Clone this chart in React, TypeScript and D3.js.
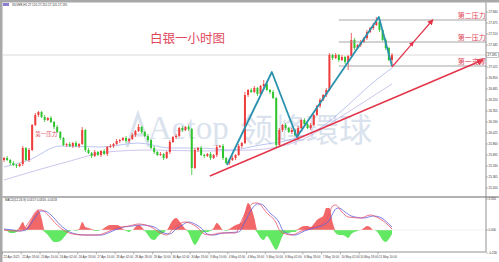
import React, { useEffect } from 'react';
import * as d3 from 'd3';

const W = 499;
const H = 262;

// ---------- price data (SILVER H1) ----------
const firstOpen = 25.62;
const closes = [
  25.65, 25.62, 25.575, 25.545, 25.53, 25.56, 25.8, 25.62, 25.77, 26.145,
  26.295, 26.34, 26.265, 26.22, 26.25, 26.19, 26.115, 26.04, 25.95, 25.845,
  25.86, 25.83, 25.875, 25.83, 25.86, 26.07, 25.77, 25.725, 25.68, 25.74,
  25.695, 25.755, 25.71, 25.815, 25.83, 25.86, 25.905, 25.92, 25.95, 25.905,
  25.935, 25.995, 26.055, 26.115, 26.04, 25.98, 25.92, 25.8, 25.74, 25.695,
  25.71, 25.65, 25.74, 25.89, 25.965, 25.98, 26.1, 26.07, 26.115, 26.085,
  25.5, 25.77, 25.8, 25.695, 25.68, 25.71, 25.65, 25.695, 25.815, 25.83,
  25.65, 25.575, 25.62, 25.65, 25.695, 25.83, 25.875, 26.595, 26.67, 26.64,
  26.7, 26.61, 26.73, 26.76, 26.67, 26.64, 26.55, 25.845, 26.07, 26.145,
  26.1, 26.04, 26.07, 25.995, 26.1, 26.22, 26.16, 26.1, 26.145, 26.295,
  26.43, 26.52, 26.595, 26.67, 27.195, 27.15, 27.195, 27.12, 27.165, 27.09,
  27.18, 27.42, 27.3, 27.345, 27.39, 27.45, 27.54, 27.6, 27.645, 27.69,
  27.57, 27.42, 27.3, 27.12, 27.195,
];
// wick lengths, in ticks of 0.015
const wickUp =
  '1212112121' + '2112121211' + '1212131212' + '1121212112' + '1213112121' +
  '2112121212' + '1212112121' + '2112121312' + '2114212121' + '2121212121' +
  '1212212121' + '1721212125' + '21212';
const wickDown =
  '2121212121' + '1212112121' + '2121212121' + '1212121212' + '2121212121' +
  '1212121212' + '7121212121' + '2121212121' + '1212121312' + '2121512121' +
  '1212121212' + '8121212121' + '21217';
const wickTick = 0.015;

// moving averages [index, price]
const maFast: [number, number][] = [
  [0, 25.515], [8, 25.62], [18, 25.83], [31, 25.815], [43, 25.875], [53, 25.8],
  [63, 25.8], [72, 25.77], [82, 25.845], [91, 25.92], [101, 26.1], [110, 26.445],
  [117, 26.745], [124, 27.0],
];
const maSlow: [number, number][] = [
  [0, 25.32], [20, 25.59], [33, 25.74], [47, 25.77], [63, 25.755], [79, 25.77],
  [95, 25.92], [107, 26.25], [117, 26.55], [124, 26.76],
];

// ---------- MACD ----------
const macdHist = [
  0.01, -0.01, -0.03, -0.03, -0.02, 0.03, 0.08, 0.02, 0.06, 0.12,
  0.17, 0.2, 0.12, -0.02, -0.05, -0.09, -0.12, -0.12, -0.11, -0.08,
  -0.04, -0.01, 0.0, -0.01, 0.01, 0.08, 0.03, 0.02, 0.01, -0.01,
  -0.01, 0.0, 0.02, 0.04, 0.05, 0.05, 0.05, 0.04, 0.01, -0.01,
  -0.02, 0.0, 0.03, 0.05, 0.03, -0.01, -0.05, -0.09, -0.1, -0.07,
  -0.04, -0.03, 0.0, 0.05, 0.1, 0.12, 0.09, 0.05, 0.01, -0.03,
  -0.1, -0.15, -0.11, -0.05, -0.02, -0.02, -0.01, 0.02, 0.07, 0.04,
  0.0, -0.01, 0.01, 0.03, 0.05, 0.06, 0.08, 0.18, 0.27, 0.22,
  0.12, -0.03, -0.08, -0.1, -0.06, -0.1, -0.16, -0.2, -0.14, -0.06,
  -0.03, -0.03, -0.02, -0.02, 0.01, 0.03, 0.04, 0.04, 0.03, 0.06,
  0.1, 0.12, 0.14, 0.22, 0.22, 0.08, -0.03, -0.05, -0.05, -0.06,
  -0.08, -0.04, -0.02, -0.01, 0.0, 0.02, 0.04, 0.03, 0.0, -0.01,
  -0.05, -0.1, -0.12, -0.09, -0.04,
];
const macdRed: [number, number][] = [
  [0, 0], [3, -0.01], [5, -0.01], [6, 0], [8, 0.08], [11, 0.2], [12, 0.2], [14, 0.15],
  [17, 0.05], [20, -0.02], [22, -0.04], [25, -0.05], [30, -0.05], [33, -0.02], [36, 0.02],
  [40, 0.04], [43, 0.06], [47, 0.03], [50, -0.03], [52, -0.05], [54, 0.01], [56, 0.06],
  [58, 0.08], [60, 0.06], [62, 0.02], [64, -0.04], [66, -0.05], [69, -0.03], [74, -0.03],
  [76, 0.1], [78, 0.22], [80, 0.27], [81, 0.27], [84, 0.17], [87, 0.07], [88, 0.0],
  [90, -0.04], [92, -0.05], [95, -0.01], [98, 0.02], [101, 0.05], [103, 0.1], [104, 0.17],
  [105, 0.24], [106, 0.25], [108, 0.18], [110, 0.13], [114, 0.12], [117, 0.15],
  [119, 0.13], [122, 0.07], [124, 0.01],
];
const macdBlue: [number, number][] = [
  [0, 0.01], [3, 0], [5, -0.01], [7, 0], [9, 0.08], [12, 0.19], [13, 0.19], [15, 0.15],
  [18, 0.05], [21, -0.02], [23, -0.04], [26, -0.05], [31, -0.05], [34, -0.02], [37, 0.02],
  [41, 0.04], [44, 0.05], [48, 0.03], [51, -0.03], [53, -0.04], [55, 0.01], [57, 0.05],
  [59, 0.08], [61, 0.06], [63, 0.02], [65, -0.04], [67, -0.05], [70, -0.03], [75, -0.02],
  [77, 0.08], [79, 0.2], [81, 0.26], [82, 0.26], [85, 0.17], [88, 0.07], [89, 0.0],
  [91, -0.04], [93, -0.05], [96, -0.01], [99, 0.02], [102, 0.05], [104, 0.1], [105, 0.16],
  [106, 0.21], [107, 0.22], [109, 0.18], [111, 0.14], [115, 0.12], [118, 0.14],
  [120, 0.13], [123, 0.06], [124, 0.03],
];

// ---------- annotations ----------
const zigzag: [number, number][] = [
  [71.25, 25.545], [85.6, 26.94], [93.6, 25.965], [119.8, 27.765], [124, 27.03],
];
const trendLine: [number, number][] = [[65.8, 25.38], [153, 27.12]];
const upArrow: [number, number][] = [[124, 27.015], [130.5, 27.37], [137, 27.72]];
const levelStart = 107;
const levels = [
  { name: '第二压力', price: 27.72 },
  { name: '第一压力', price: 27.39 },
  { name: '第一支撑', price: 27.03 },
];

// ---------- axes ----------
const priceTicks = [
  27.84, 27.675, 27.51, 27.345, 27.18, 27.015, 26.85, 26.685, 26.52, 26.355,
  26.19, 26.025, 25.86, 25.695, 25.53, 25.365, 25.2,
];
const macdTicks = [0.31, 0.0, -0.23];
const timeLabels = [
  '22 Apr 2021', '22 Apr 18:00', '23 Apr 10:00', '26 Apr 02:00', '26 Apr 18:00',
  '27 Apr 10:00', '28 Apr 02:00', '28 Apr 18:00', '29 Apr 10:00', '30 Apr 02:00',
  '30 Apr 18:00', '3 May 10:00', '4 May 02:00', '4 May 18:00', '5 May 10:00',
  '6 May 02:00', '6 May 18:00', '7 May 10:00', '10 May 02:00', '10 May 18:00',
  '11 May 10:00',
];
const timeTickStep = 6;

const UP = '#ee3d3d';
const DOWN = '#2fc52f';
const ANN = '#e3344a';

export default function App() {
  useEffect(() => {
    document.body.style.margin = '0';
  }, []);

  const x = d3.scaleLinear().domain([0, 124]).range([4, 392]);
  const y = d3.scaleLinear().domain([25.2, 27.84]).range([188, 12]);
  const m = d3.scaleLinear().domain([-0.23, 0.31]).range([253, 199]);
  const step = x(1) - x(0);

  const candles = closes.map((c, i) => {
    const o = i === 0 ? firstOpen : closes[i - 1];
    const hi = Math.max(o, c) + Number(wickUp[i]) * wickTick;
    const lo = Math.min(o, c) - Number(wickDown[i]) * wickTick;
    return { i, o, c, hi, lo };
  });

  const pLine = d3
    .line<[number, number]>()
    .x((d) => x(d[0]))
    .y((d) => y(d[1]));
  const smoothP = d3
    .line<[number, number]>()
    .x((d) => x(d[0]))
    .y((d) => y(d[1]))
    .curve(d3.curveMonotoneX);
  const smoothM = d3
    .line<[number, number]>()
    .x((d) => x(d[0]))
    .y((d) => m(d[1]))
    .curve(d3.curveMonotoneX);
  const histPos = d3
    .area<number>()
    .x((_, i) => x(i))
    .y0(m(0))
    .y1((v) => m(Math.max(0, v)))
    .curve(d3.curveMonotoneX);
  const histNeg = d3
    .area<number>()
    .x((_, i) => x(i))
    .y0(m(0))
    .y1((v) => m(Math.min(0, v)))
    .curve(d3.curveMonotoneX);

  const last = closes[closes.length - 1];
  const axisX = 486;
  const font = "'Liberation Sans', Arial, sans-serif";
  const cjk = "'Noto Sans CJK SC', sans-serif";

  return (
    <svg
      width={W}
      height={H}
      viewBox={`0 0 ${W} ${H}`}
      style={{ display: 'block', position: 'absolute', left: 0, top: 0, background: '#fff' }}
    >
      <defs>
        <marker id="ah" viewBox="0 0 10 10" refX="8" refY="5" markerWidth="5" markerHeight="5" orient="auto">
          <path d="M0,0 L10,5 L0,10 z" fill={ANN} />
        </marker>
        <marker id="am" viewBox="0 0 10 10" refX="5" refY="5" markerWidth="4" markerHeight="4" orient="auto">
          <path d="M0,0 L10,5 L0,10 z" fill={ANN} />
        </marker>
      </defs>

      {/* frame */}
      <rect x={0} y={0} width={W} height={2.5} fill="#a8a8a8" />
      <rect x={0} y={0} width={2.5} height={H} fill="#a8a8a8" />

      {/* header */}
      <rect x={3} y={3} width={6} height={3} fill="#8a7fd0" />
      <text x={12} y={6} fontSize={3} fontFamily={font} fill="#333">
        SILVER,H1 27.120 27.210 27.105 {last.toFixed(3)}
      </text>

      {/* watermark */}
      <g opacity={0.5}>
        <path d="M127,147 L138,114 L149,147 M132,135 L144,135" fill="none" stroke="#b6c6dd" strokeWidth={3} />
        <text x={148} y={139} fontSize={33} fontFamily="'Liberation Serif', 'DejaVu Serif', serif" fill="#b6c6dd">
          Aetop
        </text>
        <text x={240} y={142} fontSize={33} fontFamily="'Noto Sans CJK TC', serif" fill="#b6c6dd">
          领峰環球
        </text>
      </g>

      {/* title */}
      <text x={150} y={43} fontSize={12.5} fontFamily={cjk} fill="#e0485a">
        白银一小时图
      </text>

      {/* bid line */}
      <line x1={2.5} x2={axisX} y1={y(last)} y2={y(last)} stroke="#cfcfcf" strokeWidth={0.8} />

      {/* moving averages */}
      <path d={smoothP(maSlow) || ''} fill="none" stroke="#c3b5e6" strokeWidth={0.8} />
      <path d={smoothP(maFast) || ''} fill="none" stroke="#a9b6ec" strokeWidth={0.8} />

      {/* candles */}
      {candles.map((d) => {
        const col = d.c >= d.o ? UP : DOWN;
        const top = y(Math.max(d.o, d.c));
        const bot = y(Math.min(d.o, d.c));
        return (
          <g key={d.i}>
            <line x1={x(d.i)} x2={x(d.i)} y1={y(d.hi)} y2={y(d.lo)} stroke={col} strokeWidth={0.8} />
            <rect x={x(d.i) - 1} y={top} width={2} height={Math.max(0.8, bot - top)} fill={col} />
          </g>
        );
      })}

      {/* level lines */}
      {levels.map((l) => (
        <line key={l.name} x1={x(levelStart)} x2={axisX} y1={y(l.price)} y2={y(l.price)} stroke="#9c9c9c" strokeWidth={0.9} />
      ))}

      {/* zigzag */}
      <path d={pLine(zigzag) || ''} fill="none" stroke="#2a92ad" strokeWidth={1.8} strokeLinejoin="round" />

      {/* red trend line and arrows */}
      <path d={pLine(trendLine) || ''} fill="none" stroke={ANN} strokeWidth={1.4} markerEnd="url(#ah)" />
      <path d={pLine(upArrow) || ''} fill="none" stroke={ANN} strokeWidth={1.2} markerMid="url(#am)" markerEnd="url(#ah)" />

      {/* level labels */}
      {levels.map((l) => (
        <text key={l.name + 't'} x={x(145)} y={y(l.price) - 2.2} fontSize={7} fontFamily={cjk} fill="#e0485a">
          {l.name}
        </text>
      ))}
      <text x={x(10)} y={y(25.98)} fontSize={5.5} fontFamily={cjk} fill="#e0485a">
        第一压力
      </text>

      {/* MACD panel */}
      <line x1={2.5} x2={W} y1={197} y2={197} stroke="#666" strokeWidth={1} />
      <text x={5} y={201} fontSize={3} fontFamily={font} fill="#333">
        MACD(12,26,9) 0.0157 0.0316 -0.0158
      </text>
      <path d={histPos(macdHist) || ''} fill="#f26868" />
      <path d={histNeg(macdHist) || ''} fill="#62e862" />
      <line x1={2.5} x2={axisX} y1={m(0)} y2={m(0)} stroke="#e6e6e6" strokeWidth={0.5} />
      <path d={smoothM(macdBlue) || ''} fill="none" stroke="#5a5ee0" strokeWidth={0.8} />
      <path d={smoothM(macdRed) || ''} fill="none" stroke="#e8506a" strokeWidth={0.8} />

      {/* right axis */}
      <line x1={axisX} x2={axisX} y1={2.5} y2={252} stroke="#777" strokeWidth={0.8} />
      {priceTicks.map((p) => (
        <g key={'p' + p}>
          <line x1={axisX} x2={axisX + 2} y1={y(p)} y2={y(p)} stroke="#777" strokeWidth={0.5} />
          <text x={axisX + 2.5} y={y(p) + 1} fontSize={3} fontFamily={font} fill="#333">
            {p.toFixed(3)}
          </text>
        </g>
      ))}
      {macdTicks.map((v) => (
        <g key={'m' + v}>
          <line x1={axisX} x2={axisX + 2} y1={m(v)} y2={m(v)} stroke="#777" strokeWidth={0.5} />
          <text x={axisX + 2.5} y={m(v) + 1} fontSize={3} fontFamily={font} fill="#333">
            {v.toFixed(3)}
          </text>
        </g>
      ))}
      <rect x={axisX + 0.5} y={y(last) - 2.5} width={12} height={5} fill="#fff" stroke="#888" strokeWidth={0.5} />
      <text x={axisX + 1.5} y={y(last) + 1} fontSize={3} fontFamily={font} fill="#222">
        {last.toFixed(3)}
      </text>

      {/* bottom axis */}
      <line x1={2.5} x2={axisX} y1={252} y2={252} stroke="#777" strokeWidth={0.8} />
      {timeLabels.map((t, k) => {
        const xi = x(k * timeTickStep) - 1.5;
        return (
          <g key={t}>
            <line x1={xi} x2={xi} y1={252} y2={254.5} stroke="#777" strokeWidth={0.5} />
            <text x={xi + 1} y={257.5} fontSize={3} fontFamily={font} fill="#444">
              {t}
            </text>
          </g>
        );
      })}
    </svg>
  );
}
